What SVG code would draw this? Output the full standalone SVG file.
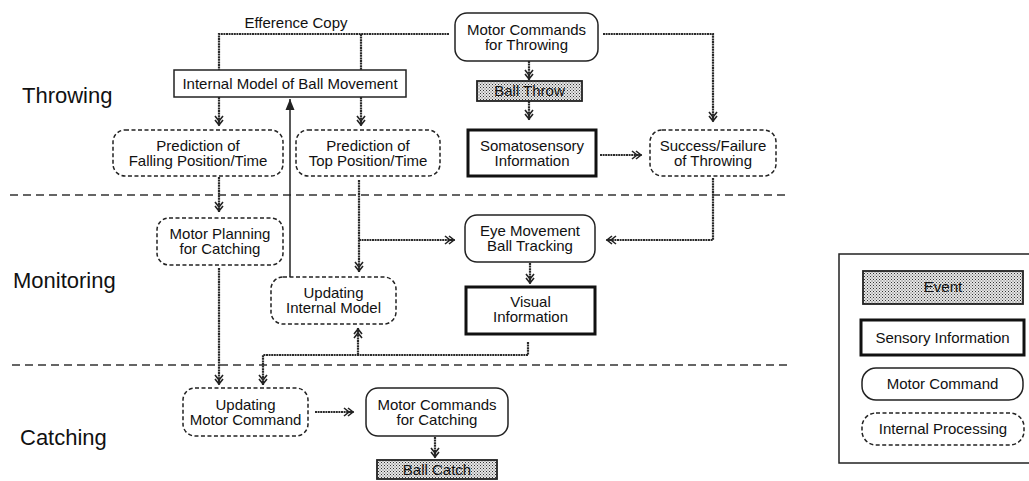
<svg xmlns="http://www.w3.org/2000/svg" width="1029" height="481" viewBox="0 0 1029 481">
<defs>
<pattern id="stipple" width="3" height="3" patternUnits="userSpaceOnUse">
<rect width="3" height="3" fill="#e6e6e6"/>
<rect x="0" y="0" width="1" height="1" fill="#333"/>
<rect x="1.5" y="1.5" width="1" height="1" fill="#555"/>
</pattern>
<marker id="dbl" markerUnits="userSpaceOnUse" markerWidth="14" markerHeight="12" refX="12" refY="6" orient="auto">
<path d="M2,2 L7,6 L2,10 M6,2 L11,6 L6,10 M8,6 L12,6" fill="none" stroke="#222" stroke-width="1.6"/>
</marker>
<marker id="solid" markerUnits="userSpaceOnUse" markerWidth="12" markerHeight="12" refX="11" refY="6" orient="auto">
<path d="M0,1.5 L11,6 L0,10.5 Z" fill="#222"/>
</marker>
</defs>
<style>
text{font-family:"Liberation Sans",Arial,sans-serif;font-size:15px;fill:#111;text-anchor:middle}
.lbl{font-size:22px;text-anchor:start}
.ev{fill:url(#stipple);stroke:#222;stroke-width:1.8}
.sens{fill:#fff;stroke:#111;stroke-width:3}
.mc{fill:#fff;stroke:#222;stroke-width:1.5}
.ip{fill:#fff;stroke:#222;stroke-width:1.5;stroke-dasharray:4 2.5}
.plain{fill:#fff;stroke:#222;stroke-width:1.5}
.sep{fill:none;stroke:#333;stroke-width:1.4;stroke-dasharray:8 5}
.w{fill:none;stroke:#2a2a2a;stroke-width:2.2;stroke-dasharray:2 0.6}
.s{fill:none;stroke:#222;stroke-width:1.5}
</style>
<g id="labels">
<text class="lbl" x="22" y="103">Throwing</text>
<text class="lbl" x="13" y="288">Monitoring</text>
<text class="lbl" x="20" y="445">Catching</text>
<text x="296" y="28">Efference Copy</text>
</g>
<g id="separators">
<line class="sep" x1="10" y1="195" x2="790" y2="195"/>
<line class="sep" x1="12" y1="365" x2="790" y2="365"/>
</g>
<g id="connectors">
<path class="w" d="M449,34 H219 V70"/>
<path class="w" d="M361,34 V70"/>
<path class="w" d="M219,97 V126" marker-end="url(#dbl)"/>
<path class="w" d="M361,97 V126" marker-end="url(#dbl)"/>
<path class="w" d="M603,34 H713 V122" marker-end="url(#dbl)"/>
<path class="w" d="M529,61 V80" marker-end="url(#dbl)"/>
<path class="w" d="M529,101 V120" marker-end="url(#dbl)"/>
<path class="w" d="M600,155 H642" marker-end="url(#dbl)"/>
<path class="w" d="M219,177 V212" marker-end="url(#dbl)"/>
<path class="w" d="M359,180 V272" marker-end="url(#dbl)"/>
<path class="w" d="M359,240 H455" marker-end="url(#dbl)"/>
<path class="w" d="M713,178 V240 H606" marker-end="url(#dbl)"/>
<path class="w" d="M530,263 V284" marker-end="url(#dbl)"/>
<path class="w" d="M528,342 V355 H263 V385" marker-end="url(#dbl)"/>
<path class="w" d="M358,355 V328" marker-end="url(#dbl)"/>
<path class="w" d="M219,268 V385" marker-end="url(#dbl)"/>
<path class="w" d="M315,412 H354" marker-end="url(#dbl)"/>
<path class="w" d="M435,437 V458" marker-end="url(#dbl)"/>
<path class="s" d="M290,277 V99" marker-end="url(#solid)"/>
</g>
<g id="mc-throwing">
<rect class="mc" x="455" y="13" width="143" height="48" rx="12"/>
<text x="526.5" y="35">Motor Commands</text>
<text x="526.5" y="50">for Throwing</text>
</g>
<g id="internal-model">
<rect class="plain" x="174" y="70" width="232" height="27"/>
<text x="290" y="89">Internal Model of Ball Movement</text>
</g>
<g id="ball-throw">
<rect class="ev" x="477" y="81" width="105" height="20"/>
<text x="529.5" y="96">Ball Throw</text>
</g>
<g id="pred-falling">
<rect class="ip" x="113" y="130" width="170" height="46" rx="12"/>
<text x="198" y="151">Prediction of</text>
<text x="198" y="166">Falling Position/Time</text>
</g>
<g id="pred-top">
<rect class="ip" x="296" y="130" width="144" height="46" rx="12"/>
<text x="368" y="151">Prediction of</text>
<text x="368" y="166">Top Position/Time</text>
</g>
<g id="somatosensory">
<rect class="sens" x="468" y="130" width="128" height="46"/>
<text x="532" y="151">Somatosensory</text>
<text x="532" y="166">Information</text>
</g>
<g id="success">
<rect class="ip" x="650" y="130" width="126" height="46" rx="12"/>
<text x="713" y="151">Success/Failure</text>
<text x="713" y="166">of Throwing</text>
</g>
<g id="motor-planning">
<rect class="ip" x="157" y="218" width="126" height="47" rx="12"/>
<text x="220" y="239">Motor Planning</text>
<text x="220" y="254">for Catching</text>
</g>
<g id="eye-movement">
<rect class="mc" x="465" y="215" width="130" height="47" rx="12"/>
<text x="530" y="236">Eye Movement</text>
<text x="530" y="251">Ball Tracking</text>
</g>
<g id="updating-internal">
<rect class="ip" x="271" y="277" width="125" height="47" rx="12"/>
<text x="333.5" y="298">Updating</text>
<text x="333.5" y="313">Internal Model</text>
</g>
<g id="visual">
<rect class="sens" x="466" y="287" width="129" height="47"/>
<text x="530.5" y="307">Visual</text>
<text x="530.5" y="322">Information</text>
</g>
<g id="updating-motor">
<rect class="ip" x="183" y="388" width="125" height="48" rx="12"/>
<text x="245.5" y="410">Updating</text>
<text x="245.5" y="425">Motor Command</text>
</g>
<g id="mc-catching">
<rect class="mc" x="366" y="388" width="142" height="48" rx="12"/>
<text x="437" y="410">Motor Commands</text>
<text x="437" y="425">for Catching</text>
</g>
<g id="ball-catch">
<rect class="ev" x="377" y="460" width="120" height="19"/>
<text x="437" y="475">Ball Catch</text>
</g>
<g id="legend">
<rect class="plain" x="839" y="254" width="200" height="209"/>
<rect class="ev" x="863" y="271" width="160" height="33"/>
<text x="943" y="292">Event</text>
<rect class="sens" x="861" y="320" width="163" height="35"/>
<text x="942.5" y="343">Sensory Information</text>
<rect class="mc" x="862" y="368" width="161" height="32" rx="14"/>
<text x="942.5" y="389">Motor Command</text>
<rect class="ip" x="862" y="413" width="162" height="32" rx="14"/>
<text x="943" y="434">Internal Processing</text>
</g>
</svg>
